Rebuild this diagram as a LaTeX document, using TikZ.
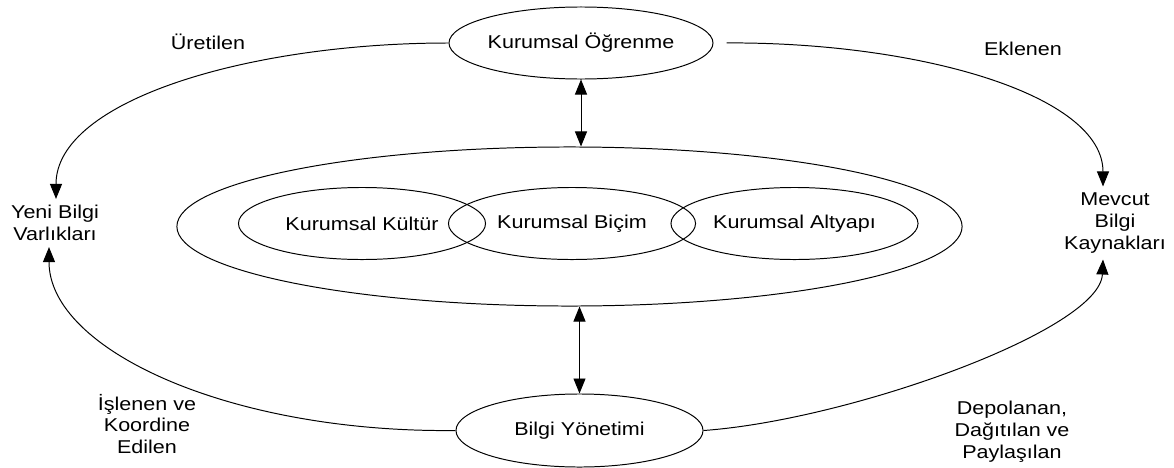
\documentclass[tikz,border=0pt]{standalone}
\usepackage{fontspec}
\setmainfont{Liberation Sans}[FakeStretch=1.16]
\usepackage{tikz}
\usetikzlibrary{shapes.geometric, arrows.meta, positioning}

\newcommand{\kfont}{\fontsize{13.2}{15.6}\selectfont}

\begin{document}
\begin{tikzpicture}[
    x=0.025cm, y=-0.025cm,
    oval/.style={ellipse, draw, line width=0.7pt, inner sep=0pt, minimum width=6.175cm, minimum height=1.8cm, font=\kfont},
    lbl/.style={font=\kfont, align=center, inner sep=0.15cm},
    arrow/.style={-{Triangle[length=0.375cm, width=0.3cm]}, line width=0.7pt},
    darrow/.style={{Triangle[length=0.375cm, width=0.3cm]}-{Triangle[length=0.375cm, width=0.3cm]}, line width=0.7pt}
]
\useasboundingbox (0,0) rectangle (1174,467);

%% ── Top and bottom ovals ─────────────────────────────────────────────
\node[oval, minimum width=6.3cm]     (ogrenme) at (581,43)    {Kurumsal Öğrenme};
\node[oval, minimum height=1.825cm]  (yonetim) at (579.5,430.5) {Bilgi Yönetimi};

%% ── Central ring with the three overlapping ovals ────────────────────
\node[oval, minimum width=19.625cm, minimum height=3.975cm] (cevre) at (569.5,226.5) {};
\node[oval] (kultur)  at (362,223.5)   {Kurumsal Kültür};
\node[oval] (bicim)   at (572,223.5)   {Kurumsal Biçim};
\node[oval] (altyapi) at (794.5,223.5) {Kurumsal Altyapı};

%% ── Side texts ───────────────────────────────────────────────────────
\node[lbl] (yeni)   at (55,223)   {Yeni Bilgi\\Varlıkları};
\node[lbl] (mevcut) at (1115,223) {Mevcut\\Bilgi\\Kaynakları};

%% ── Arrow labels ─────────────────────────────────────────────────────
\node[lbl] (uretilen)  at (208,42)   {Üretilen};
\node[lbl] (eklenen)   at (1023,49)  {Eklenen};
\node[lbl] (islenen)   at (147,424)  {İşlenen ve\\Koordine\\Edilen};
\node[lbl] (depolanan) at (1012,432) {Depolanan,\\Dağıtılan ve\\Paylaşılan};

%% ── Arrows ───────────────────────────────────────────────────────────

%% Kurumsal Öğrenme <-> ring <-> Bilgi Yönetimi (vertical)
\draw[darrow] (ogrenme.south) -- (ogrenme.south |- cevre.north);
\draw[darrow] (yonetim.north) -- (yonetim.north |- cevre.south);

%% upper arcs
\draw[arrow] (ogrenme.west) .. controls (250,43) and (56,100) .. ([xshift=0.025cm]yeni.north);
\draw[arrow, shorten <=0.325cm] (ogrenme.east) .. controls (920,42) and (1103,95) .. ([xshift=-0.3cm]mevcut.north);

%% lower arcs
\draw[arrow] (yonetim.west) .. controls (230,433) and (49,350) .. ([xshift=-0.15cm]yeni.south);
\draw[arrow] (yonetim.east) .. controls (850,420) and (1100,330) .. ([xshift=-0.3cm]mevcut.south);

\end{tikzpicture}
\end{document}
